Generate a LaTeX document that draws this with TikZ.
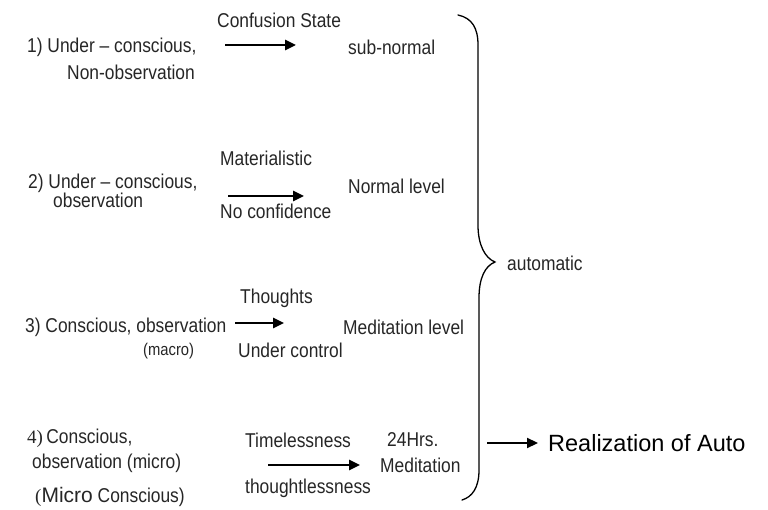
\documentclass[tikz,border=0pt]{standalone}
\usepackage{fontspec}
\setmainfont{Liberation Sans}
\newfontfamily\condx[FakeStretch=0.87,Ligatures=TeX]{Liberation Sans}
\newfontfamily\serifx{Liberation Serif}
\usetikzlibrary{arrows.meta}
\begin{document}
\begin{tikzpicture}[x=1pt,y=-1pt,
  lbl/.style={inner sep=0pt,anchor=west,font=\condx\fontsize{20}{22}\selectfont,text=black!85},
  big/.style={inner sep=0pt,anchor=west,font=\fontsize{23.5}{26}\selectfont,text=black},
  arr/.style={line width=2.6pt,-{Triangle[length=11pt,width=10pt]}},
  bracex/.style={line width=1.3pt,line cap=round}]
\useasboundingbox (0,0) rectangle (768,510);
% row 1
\node[lbl] (t1a) at (27,47) {1) Under – conscious,};
\node[lbl] (t1b) at (67,72) {Non-observation};
\node[lbl] (c1) at (217,20) {Confusion State};
\node[lbl] (r1) at (348,47) {sub-normal};
\coordinate (a1s) at (225,45);
\coordinate (a1e) at (296,45);
\draw[arr] (a1s) -- (a1e);
% row 2
\node[lbl] (t2a) at (28,183) {2) Under – conscious,};
\node[lbl] (t2b) at (53,200) {observation};
\node[lbl] (c2a) at (220,158) {Materialistic};
\node[lbl] (c2b) at (220,211) {No confidence};
\node[lbl] (r2) at (348,186) {Normal level};
\coordinate (a2s) at (228,196);
\coordinate (a2e) at (304,196);
\draw[arr] (a2s) -- (a2e);
% row 3
\node[lbl] (t3a) at (25,327) {3) Conscious, observation};
\node[lbl] (t3b) at (143,351) {\fontsize{17}{19}\selectfont(macro)};
\node[lbl] (c3a) at (240,298) {Thoughts};
\node[lbl] (c3b) at (238,350) {Under control};
\node[lbl] (r3) at (343,327) {Meditation level};
\coordinate (a3s) at (235,323);
\coordinate (a3e) at (284,323);
\draw[arr] (a3s) -- (a3e);
% row 4
\node[lbl] (t4a) at (27,438) {{\serifx\fontsize{19}{21}\selectfont 4)}\,Conscious,};
\node[lbl] (t4b) at (32,463) {observation (micro)};
\node[lbl] (t4c) at (35,497) {{\serifx\fontsize{19}{21}\selectfont(}{\rmfamily\fontsize{21}{23}\selectfont Micro} Conscious)};
\node[lbl] (c4a) at (245,440) {Timelessness};
\node[lbl] (c4b) at (245,488) {thoughtlessness};
\node[lbl] (r4a) at (387,440) {24Hrs.};
\node[lbl] (r4b) at (380,465) {Meditation};
\coordinate (a4s) at (268,465);
\coordinate (a4e) at (360,465);
\draw[arr] (a4s) -- (a4e);
% brace
\draw[bracex] (458,15) .. controls (472,18) and (478,28) .. (478,45) -- (478,225)
  .. controls (478,245) and (485,258) .. (495,262)
  .. controls (485,266) and (479,278) .. (479,298) -- (479,470)
  .. controls (479,488) and (472,497) .. (462,500);
\node[lbl] (auto) at (507,263) {automatic};
% result
\node[big] (real) at (548,443) {Realization of Auto};
\coordinate (a5s) at (487,443);
\draw[arr,line width=2.2pt,shorten >=10pt] (a5s) -- (real.west);
\end{tikzpicture}
\end{document}
